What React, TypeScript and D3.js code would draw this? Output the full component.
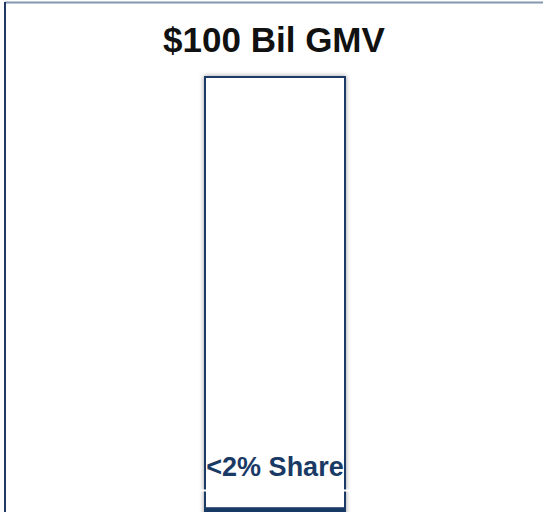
import React from "react";
import * as d3 from "d3";

const title = "$100 Bil GMV";
const categories = ["GMV"];
const totalValues = [100];
const shareValues = [2];
const shareLabels = ["<2% Share"];

const W = 543;
const H = 512;

export default function App() {
  const x = d3.scaleBand<string>().domain(categories).range([205, 345]).padding(0);
  const y = d3.scaleLinear().domain([0, 100]).range([516, 77]);
  const navy = "#1a3a66";
  return (
    <svg
      width={W}
      height={H}
      style={{ position: "absolute", left: 0, top: 0, background: "#fff" }}
      fontFamily="'Liberation Sans', Arial, sans-serif"
    >
      <defs>
        <filter id="sh" x="-20%" y="-5%" width="140%" height="110%">
          <feDropShadow dx="0" dy="0" stdDeviation="2.5" floodColor="#000" floodOpacity="0.4" />
        </filter>
      </defs>
      <rect width={W} height={H} fill="#fff" />
      <line x1={5} x2={W} y1={2.5} y2={2.5} stroke="#8497b0" strokeWidth={2} />
      <line x1={5} x2={5} y1={2} y2={H} stroke="#1f3864" strokeWidth={2} />
      <text x={274} y={52} textAnchor="middle" fontSize={35} fontWeight="bold" fill="#111">
        {title}
      </text>
      {categories.map((c, i) => {
        const x0 = x(c)!;
        const bw = x.bandwidth();
        return (
          <g key={c}>
            <rect
              x={x0}
              y={y(totalValues[i])}
              width={bw}
              height={y(0) - y(totalValues[i])}
              fill="#fff"
              stroke={navy}
              strokeWidth={2}
              filter="url(#sh)"
            />
            <rect
              x={x0}
              y={y(shareValues[i])}
              width={bw}
              height={y(0) - y(shareValues[i])}
              fill={navy}
            />
            <line x1={x0 - 5} x2={x0 + bw + 5} y1={490.5} y2={490.5} stroke="#fff" strokeWidth={2} />
            <text
              x={x0 + bw / 2}
              y={476}
              textAnchor="middle"
              fontSize={27}
              fontWeight="bold"
              fill={navy}
            >
              {shareLabels[i]}
            </text>
          </g>
        );
      })}
    </svg>
  );
}
